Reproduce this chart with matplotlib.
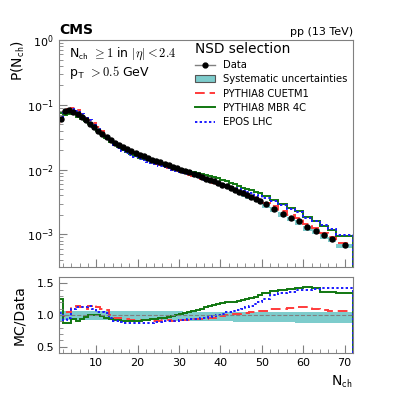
import numpy as np
import matplotlib
matplotlib.use("Agg")
import matplotlib.pyplot as plt
from matplotlib.lines import Line2D
from matplotlib.patches import Patch
from matplotlib.ticker import MultipleLocator

plt.rcParams['mathtext.fontset'] = 'cm'

# bin edges: unit bins 1..50, then width 2 up to 68, last bin 68-72
edges = list(range(1, 51)) + [52, 54, 56, 58, 60, 62, 64, 66, 68, 72]

# measured P(Nch)
data = [0.060, 0.080, 0.082, 0.079, 0.072, 0.065, 0.058, 0.051, 0.045, 0.040,
        0.0355, 0.0318, 0.0288, 0.0262, 0.0240, 0.0222, 0.0206, 0.0192, 0.0180, 0.0169,
        0.0160, 0.0151, 0.0143, 0.0136, 0.0129, 0.0122, 0.0116, 0.0110, 0.0105, 0.0100,
        0.0095, 0.0091, 0.0086, 0.0082, 0.0077, 0.0073, 0.0069, 0.0066, 0.0062, 0.0059,
        0.0055, 0.0052, 0.0049, 0.0046, 0.0043, 0.0040, 0.0038, 0.0035, 0.0033,
        0.0029, 0.0025, 0.0021, 0.0018, 0.0016, 0.0013, 0.00115, 0.00098, 0.00086, 0.00069]

# relative systematic uncertainty (up / down)
sys_up = [0.07, 0.06, 0.06, 0.06, 0.06, 0.06, 0.06, 0.06, 0.06, 0.06,
          0.06, 0.06, 0.06, 0.06, 0.06, 0.06, 0.06, 0.06, 0.06, 0.06,
          0.06, 0.06, 0.06, 0.06, 0.06, 0.06, 0.06, 0.06, 0.06, 0.06,
          0.055, 0.055, 0.055, 0.055, 0.055, 0.055, 0.055, 0.055, 0.055, 0.055,
          0.05, 0.05, 0.05, 0.05, 0.05, 0.05, 0.05, 0.05, 0.05,
          0.05, 0.05, 0.05, 0.05, 0.05, 0.05, 0.05, 0.05, 0.05, 0.05]
sys_down = [0.09, 0.08, 0.08, 0.08, 0.08, 0.08, 0.08, 0.08, 0.08, 0.08,
            0.08, 0.08, 0.08, 0.08, 0.08, 0.08, 0.08, 0.08, 0.08, 0.08,
            0.08, 0.08, 0.085, 0.085, 0.085, 0.085, 0.085, 0.09, 0.09, 0.09,
            0.09, 0.09, 0.09, 0.095, 0.095, 0.095, 0.095, 0.10, 0.10, 0.10,
            0.10, 0.10, 0.105, 0.105, 0.105, 0.11, 0.11, 0.11, 0.11,
            0.11, 0.115, 0.115, 0.115, 0.12, 0.12, 0.12, 0.12, 0.12, 0.12]

# MC / Data ratios
ratio_cuetm1 = [0.87, 0.98, 1.05, 1.12, 1.15, 1.13, 1.10, 1.15, 1.16, 1.12,
                1.10, 1.08, 1.00, 0.96, 0.95, 0.94, 0.93, 0.92, 0.92, 0.92,
                0.92, 0.92, 0.91, 0.91, 0.91, 0.92, 0.92, 0.91, 0.92, 0.92,
                0.92, 0.92, 0.93, 0.93, 0.93, 0.94, 0.95, 0.96, 0.97, 0.99,
                1.00, 1.01, 1.02, 1.02, 1.03, 1.03, 1.04, 1.05, 1.06,
                1.07, 1.09, 1.10, 1.11, 1.12, 1.12, 1.10, 1.08, 1.07, 1.06]
ratio_mbr = [1.25, 0.87, 0.87, 0.93, 0.90, 0.93, 0.97, 1.00, 1.00, 1.00,
             0.99, 0.96, 0.93, 0.92, 0.92, 0.91, 0.91, 0.91, 0.91, 0.91,
             0.92, 0.92, 0.93, 0.94, 0.95, 0.96, 0.97, 0.98, 1.00, 1.01,
             1.03, 1.04, 1.06, 1.08, 1.10, 1.12, 1.14, 1.16, 1.18, 1.19,
             1.20, 1.21, 1.21, 1.22, 1.23, 1.25, 1.27, 1.29, 1.31,
             1.34, 1.38, 1.40, 1.41, 1.43, 1.44, 1.42, 1.37, 1.36, 1.35]
ratio_epos = [1.03, 0.92, 0.95, 1.10, 1.13, 1.12, 1.12, 1.14, 1.10, 1.05,
              1.04, 1.03, 0.95, 0.91, 0.90, 0.89, 0.88, 0.87, 0.87, 0.87,
              0.87, 0.88, 0.88, 0.89, 0.89, 0.90, 0.90, 0.91, 0.91, 0.92,
              0.92, 0.93, 0.93, 0.94, 0.95, 0.96, 0.97, 0.98, 1.00, 1.02,
              1.04, 1.05, 1.06, 1.08, 1.10, 1.12, 1.15, 1.17, 1.20,
              1.25, 1.31, 1.35, 1.37, 1.39, 1.40, 1.41, 1.42, 1.43, 1.43]

edges = np.array(edges, dtype=float)
data = np.array(data)
up = np.array(sys_up)
dn = np.array(sys_down)
centers = 0.5 * (edges[:-1] + edges[1:])
widths = np.diff(edges)

teal = '#7dcccc'
mc = [("PYTHIA8 CUETM1", np.array(ratio_cuetm1), '#ff3b3b', (0, (5, 2.5))),
      ("PYTHIA8 MBR 4C", np.array(ratio_mbr), '#117711', '-'),
      ("EPOS LHC", np.array(ratio_epos), '#1a1aff', (0, (1.2, 1.2)))]

fig = plt.figure(figsize=(3.93, 3.93), dpi=100)
ax1 = fig.add_axes([0.150, 0.321, 0.748, 0.577])
ax2 = fig.add_axes([0.150, 0.102, 0.748, 0.193], sharex=ax1)

# main panel
ax1.bar(edges[:-1], data * (up + dn), bottom=data * (1 - dn), width=widths,
        align='edge', color=teal, lw=0)
for name, r, col, ls in mc:
    ax1.stairs(data * r, edges, color=col, ls=ls, lw=1.4)
ax1.plot(centers, data, 'o', color='black', ms=3.6)
ax1.set_yscale('log')
ax1.set_ylim(10 ** -3.5, 1)
ax1.set_xlim(1, 72)
ax1.set_ylabel(r'P(N$_\mathsf{ch}$)', fontsize=10, loc='top')
ax1.tick_params(labelbottom=False)

ax1.text(0.0, 1.012, 'CMS', transform=ax1.transAxes, fontsize=10,
         fontweight='bold', ha='left', va='bottom')
ax1.text(1.0, 1.012, 'pp (13 TeV)', transform=ax1.transAxes, fontsize=8,
         ha='right', va='bottom')
ax1.text(0.035, 0.975, r'N$_\mathsf{ch}$ $\geq 1$ in $|\eta| < 2.4$',
         transform=ax1.transAxes, fontsize=9, va='top')
ax1.text(0.035, 0.895, r'p$_\mathsf{T}$ $> 0.5$ GeV',
         transform=ax1.transAxes, fontsize=9, va='top')

handles = [Line2D([], [], color='gray', lw=1, marker='o', mfc='black', mec='black', ms=3.5),
           Patch(facecolor=teal, edgecolor='#555555', lw=0.8)]
labels = ['Data', 'Systematic uncertainties']
for name, r, col, ls in mc:
    handles.append(Line2D([], [], color=col, ls=ls, lw=1.4))
    labels.append(name)
leg = ax1.legend(handles, labels, loc='upper left', bbox_to_anchor=(0.495, 0.893),
                 bbox_transform=fig.transFigure, frameon=False, fontsize=7.2,
                 title='NSD selection', title_fontsize=9.8, alignment='left',
                 handlelength=2.0, handletextpad=0.8, labelspacing=0.42,
                 borderpad=0, borderaxespad=0)

# ratio panel
ax2.bar(edges[:-1], up + dn, bottom=1 - dn, width=widths, align='edge',
        color=teal, lw=0)
ax2.axhline(1.0, color='gray', ls='--', lw=0.8)
for name, r, col, ls in mc:
    ax2.stairs(r, edges, color=col, ls=ls, lw=1.4)
ax2.set_ylim(0.4, 1.6)
ax2.set_ylabel('MC/Data', fontsize=10)
ax2.set_xlabel(r'N$_\mathsf{ch}$', fontsize=10, loc='right')
ax2.yaxis.set_major_locator(MultipleLocator(0.5))
ax2.yaxis.set_minor_locator(MultipleLocator(0.1))
ax2.yaxis.set_major_formatter(matplotlib.ticker.FormatStrFormatter('%.1f'))

for ax in (ax1, ax2):
    ax.xaxis.set_major_locator(MultipleLocator(10))
    ax.xaxis.set_minor_locator(MultipleLocator(2))
    ax.tick_params(which='both', direction='in', color='#808080', labelsize=8)
    ax.tick_params(which='major', length=6)
    ax.tick_params(which='minor', length=3)
    for s in ax.spines.values():
        s.set_color('#808080')
    ax.yaxis.set_label_coords(-0.11, 1.0 if ax is ax1 else 0.5)

fig.savefig('out.png', dpi=100)
